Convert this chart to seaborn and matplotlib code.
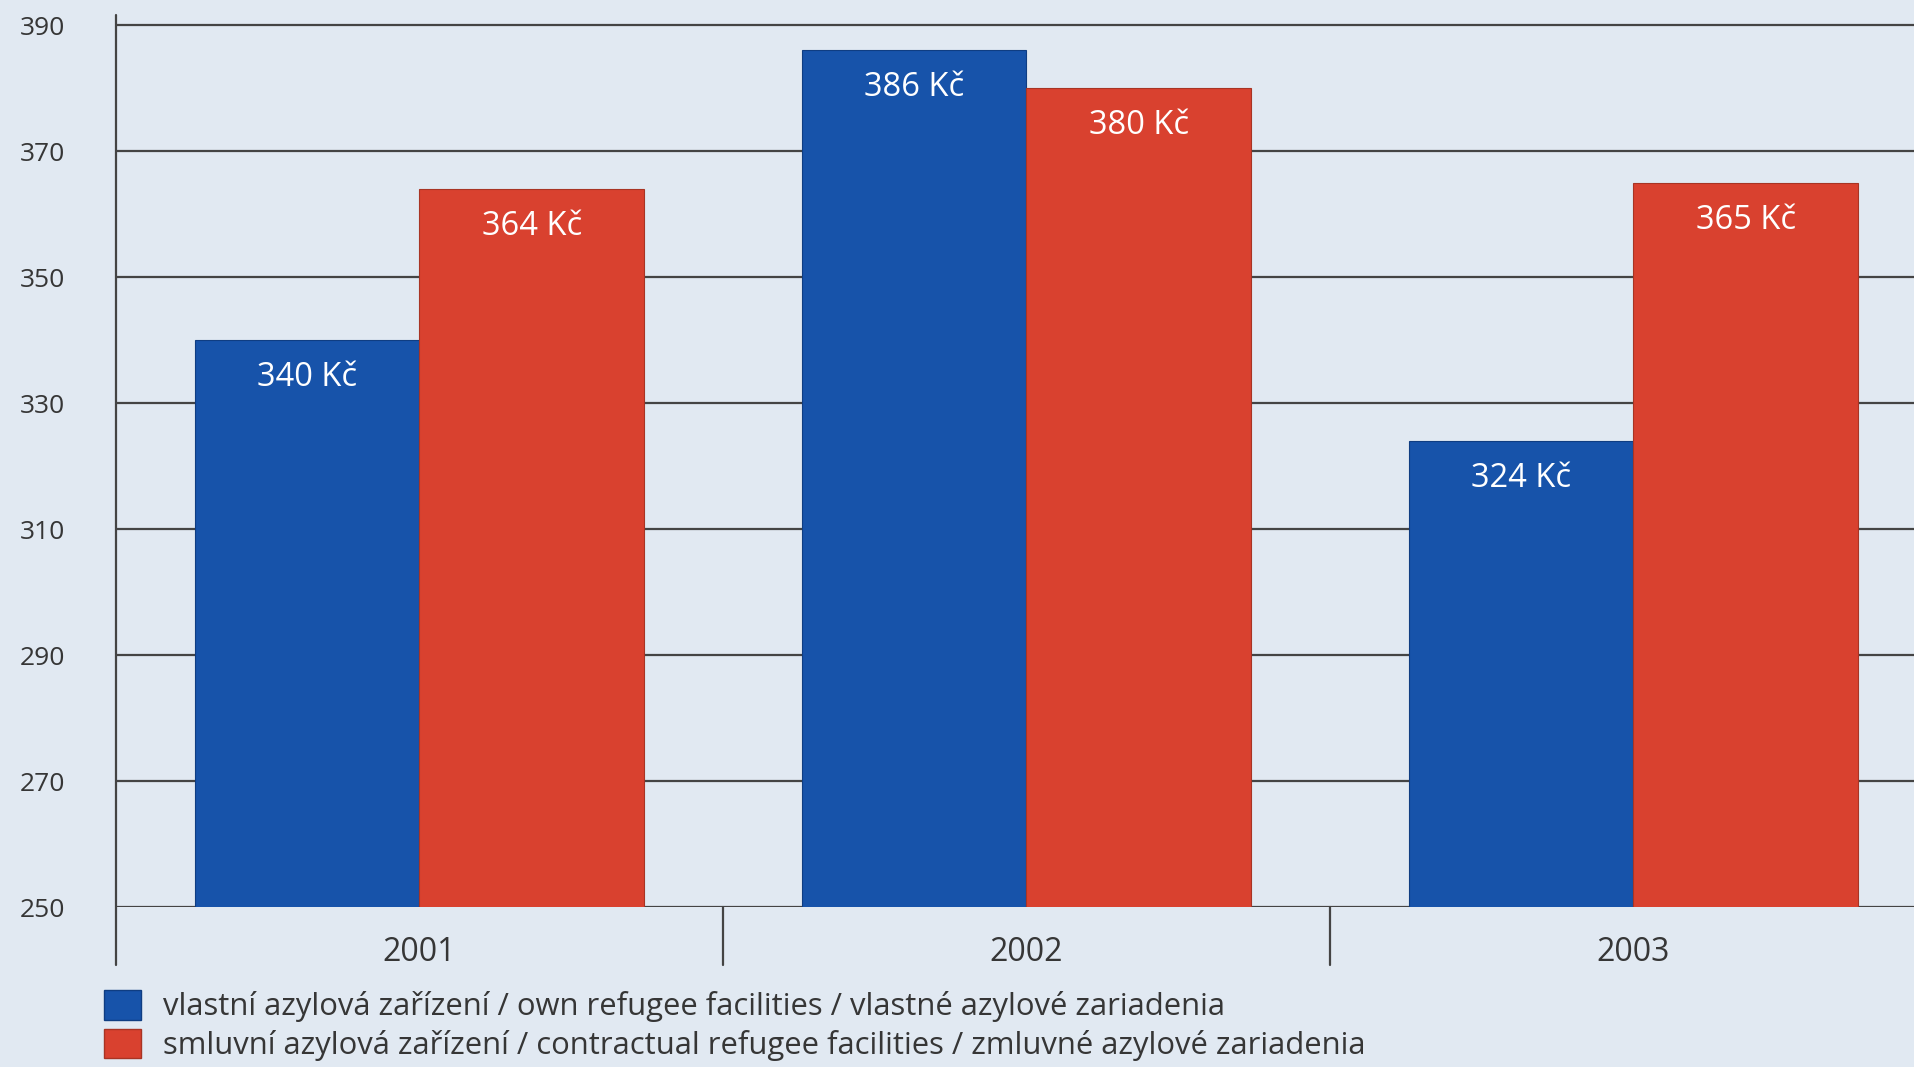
import matplotlib
matplotlib.use("Agg")
import matplotlib.pyplot as plt
from matplotlib import font_manager
from matplotlib.patches import Patch
import matplotlib.transforms as mtransforms
import seaborn as sns
import pandas as pd

# ---- data ----
years = ["2001", "2002", "2003"]
own_values = [340, 386, 324]
contract_values = [364, 380, 365]
series_names = [
    "vlastní azylová zařízení / own refugee facilities / vlastné azylové zariadenia",
    "smluvní azylová zařízení / contractual refugee facilities / zmluvné azylové zariadenia",
]
yticks = [250, 270, 290, 310, 330, 350, 370, 390]

blue = "#1753aa"
red = "#d9412f"
bg = "#e1e9f2"

df = pd.DataFrame({
    "year": years * 2,
    "value": own_values + contract_values,
    "series": [series_names[0]] * 3 + [series_names[1]] * 3,
})

sns.set_theme(style="white")
names = {f.name for f in font_manager.fontManager.ttflist}
main_font = "Open Sans" if "Open Sans" in names else "DejaVu Sans"
plt.rcParams["font.family"] = [main_font, "DejaVu Sans"]

fig = plt.figure(figsize=(19.15, 10.67), dpi=100, facecolor=bg)
ax = fig.add_axes([116 / 1915, (1067 - 907) / 1067, 1 - 116 / 1915, 892 / 1067])
ax.set_facecolor(bg)

sns.barplot(data=df, x="year", y="value", hue="series",
            palette=[blue, red], width=0.74, ax=ax, legend=False,
            saturation=1, linewidth=0.8)
for cont, ec in zip(ax.containers, ["#0f3d82", "#a83424"]):
    for p in cont:
        p.set_edgecolor(ec)

ax.set_xlim(-0.5, 2.464)
ax.set_ylim(250, 391.6)
ax.set_yticks(yticks)
ax.set_axisbelow(True)
ax.yaxis.grid(True, color="#444444", linewidth=1.6)
ax.xaxis.grid(False)
for s in ax.spines.values():
    s.set_visible(False)
ax.set_xlabel("")
ax.set_ylabel("")
ax.tick_params(axis="y", length=11.5, width=1.6, color="#444444", pad=25,
               labelsize=19, labelcolor="#363636")
ax.tick_params(axis="x", length=0, pad=21, labelsize=23, labelcolor="#363636")

# value labels inside bars
for cont in ax.containers:
    for p in cont:
        v = p.get_height()
        ax.annotate(f"{int(round(v))} Kč", (p.get_x() + p.get_width() / 2, v),
                    xytext=(0, -27), textcoords="offset points",
                    ha="center", va="center", color="white", fontsize=23.5)

# vertical axis line and category separators
trans = mtransforms.blended_transform_factory(ax.transData, ax.transAxes)
ax.plot([-0.5, -0.5], [-0.065, 1.0], transform=trans, color="#444444",
        linewidth=1.6, clip_on=False)
for xs in [0.5, 1.5]:
    ax.plot([xs, xs], [-0.065, 0.0], transform=trans, color="#444444",
            linewidth=1.6, clip_on=False)

handles = [Patch(facecolor=blue, edgecolor="#0f3d82"),
           Patch(facecolor=red, edgecolor="#a83424")]
fig.legend(handles, series_names, loc="upper left",
           bbox_to_anchor=(104 / 1915, 1 - 990 / 1067), frameon=False,
           prop={"family": [main_font, "DejaVu Sans"], "size": 22.3},
           handlelength=1.2, handleheight=1.1, handletextpad=0.7,
           labelspacing=0.2, borderpad=0, borderaxespad=0, labelcolor="#363636")

fig.savefig("out.png", dpi=100, facecolor=bg)
